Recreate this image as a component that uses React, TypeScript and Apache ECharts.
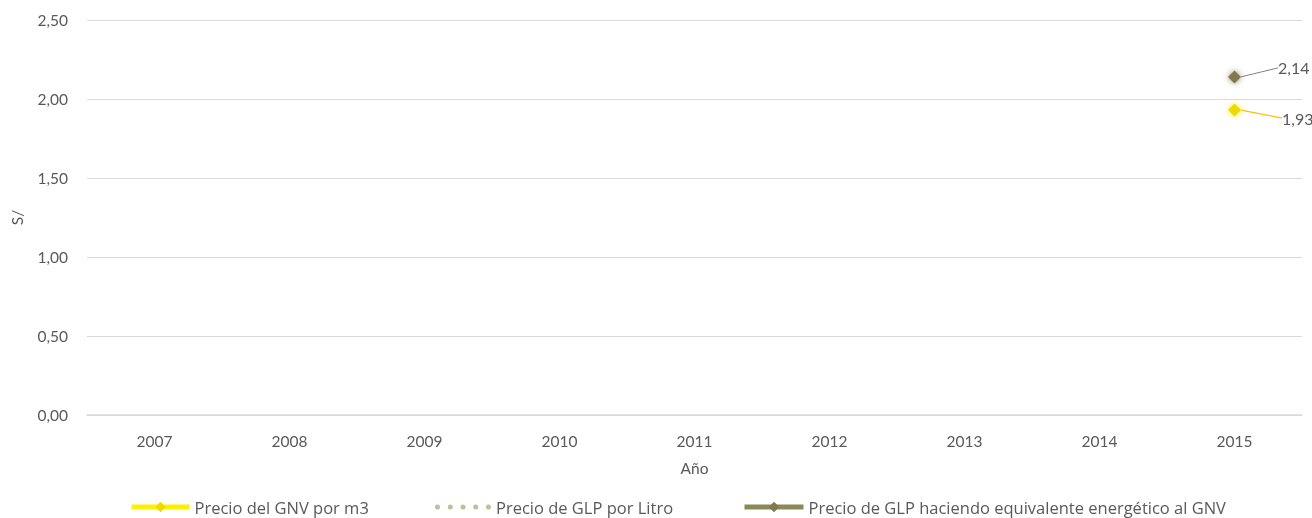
import React, { useEffect, useRef } from "react";
import * as echarts from "echarts";

const years = ["2007", "2008", "2009", "2010", "2011", "2012", "2013", "2014", "2015"];
const gnvPrecio: (number | null)[] = [null, null, null, null, null, null, null, null, 1.93];
const glpLitro: (number | null)[] = [null, null, null, null, null, null, null, null, null];
const glpEquivalente: (number | null)[] = [null, null, null, null, null, null, null, null, 2.14];
const yTicks = { min: 0, max: 2.5, interval: 0.5 };
const seriesNames = [
  "Precio del GNV por m3",
  "Precio de GLP por Litro",
  "Precio de GLP haciendo equivalente energético al GNV",
];

const FONT = "Lato";
const LEGEND_FONT = "Open Sans";
const FS = 15.5;
const TXT = "#595959";
const fmt = (v: number) => v.toFixed(2).replace(".", ",");

// five small dots for the dotted legend icon (56 x 5 box)
const dotsIcon =
  "path://" +
  [0, 1, 2, 3, 4]
    .map((i) => {
      const cx = 2.5 + i * 12.75;
      return `M${cx - 2.5},2.5a2.5,2.5 0 1,0 5,0a2.5,2.5 0 1,0 -5,0Z`;
    })
    .join(" ");

export default function App() {
  const ref = useRef<HTMLDivElement>(null);
  useEffect(() => {
    if (!ref.current) return;
    const chart = echarts.init(ref.current, null, { renderer: "svg" });
    const legendBase = {
      top: 498,
      padding: 0,
      itemWidth: 58,
      itemHeight: 13,
      itemGap: 4,
      lineStyle: { width: 5 },
      textStyle: { color: TXT, fontFamily: LEGEND_FONT, fontSize: 16.5, lineHeight: 18, padding: [0, 0, 0, 0] },
      selectedMode: false,
    };
    chart.setOption({
      animation: false,
      textStyle: { fontFamily: FONT },
      grid: { left: 87, right: 10, top: 20, bottom: 103, containLabel: false },
      legend: [
        { ...legendBase, left: 129, data: [seriesNames[0]] },
        {
          ...legendBase,
          left: 435,
          itemWidth: 56,
          itemHeight: 5,
          data: [{ name: seriesNames[1], icon: dotsIcon, itemStyle: { color: "#C4BD97" } }],
        },
        { ...legendBase, left: 742, itemWidth: 59, data: [seriesNames[2]] },
      ],
      xAxis: {
        type: "category",
        data: years,
        boundaryGap: true,
        name: "Año",
        nameLocation: "middle",
        nameGap: 45,
        nameTextStyle: { color: TXT, fontFamily: FONT, fontSize: FS },
        axisLine: { lineStyle: { color: "#D9D9D9", width: 1.5 } },
        axisTick: { show: false },
        axisLabel: { color: TXT, fontFamily: FONT, fontSize: FS, margin: 18 },
      },
      yAxis: {
        type: "value",
        min: yTicks.min,
        max: yTicks.max,
        interval: yTicks.interval,
        name: "S/",
        nameLocation: "middle",
        nameGap: 62,
        nameRotate: 90,
        nameTextStyle: { color: TXT, fontFamily: FONT, fontSize: FS },
        axisLine: { show: false },
        axisTick: { show: false },
        splitLine: { lineStyle: { color: "#D9D9D9", width: 1 } },
        axisLabel: { color: TXT, fontFamily: FONT, fontSize: FS, margin: 19, formatter: (v: number) => fmt(v) },
      },
      series: [
        {
          name: seriesNames[0],
          type: "line",
          data: gnvPrecio,
          symbol: "diamond",
          symbolSize: 13,
          connectNulls: false,
          color: "#FFE600",
          lineStyle: { color: "#FFF000", width: 5 },
          itemStyle: { color: "#EEDA00", shadowColor: "rgba(255,235,0,0.9)", shadowBlur: 6 },
          label: {
            show: true,
            position: "right",
            distance: 5,
            color: TXT,
            fontFamily: FONT,
            fontSize: 16,
            formatter: (p: any) => fmt(p.value),
          },
          labelLayout: { dx: 36, dy: 8 },
          labelLine: { show: true, lineStyle: { color: "#FFC000", width: 1.2 } },
        },
        {
          name: seriesNames[1],
          type: "line",
          data: glpLitro,
          symbol: "none",
          color: "#C4BD97",
          lineStyle: { color: "#C4BD97", width: 5, type: [0.1, 10], cap: "round" },
        },
        {
          name: seriesNames[2],
          type: "line",
          data: glpEquivalente,
          symbol: "diamond",
          symbolSize: 13,
          color: "#8E8758",
          lineStyle: { color: "#8E8758", width: 5 },
          itemStyle: { color: "#807950", shadowColor: "rgba(120,112,70,0.8)", shadowBlur: 6 },
          label: {
            show: true,
            position: "right",
            distance: 5,
            color: TXT,
            fontFamily: FONT,
            fontSize: 16,
            formatter: (p: any) => fmt(p.value),
          },
          labelLayout: { dx: 32, dy: -9 },
          labelLine: { show: true, lineStyle: { color: "#808080", width: 1 } },
        },
      ],
    });
    return () => chart.dispose();
  }, []);
  return <div ref={ref} style={{ position: "fixed", left: 0, top: 0, width: 1312, height: 518 }} />;
}
